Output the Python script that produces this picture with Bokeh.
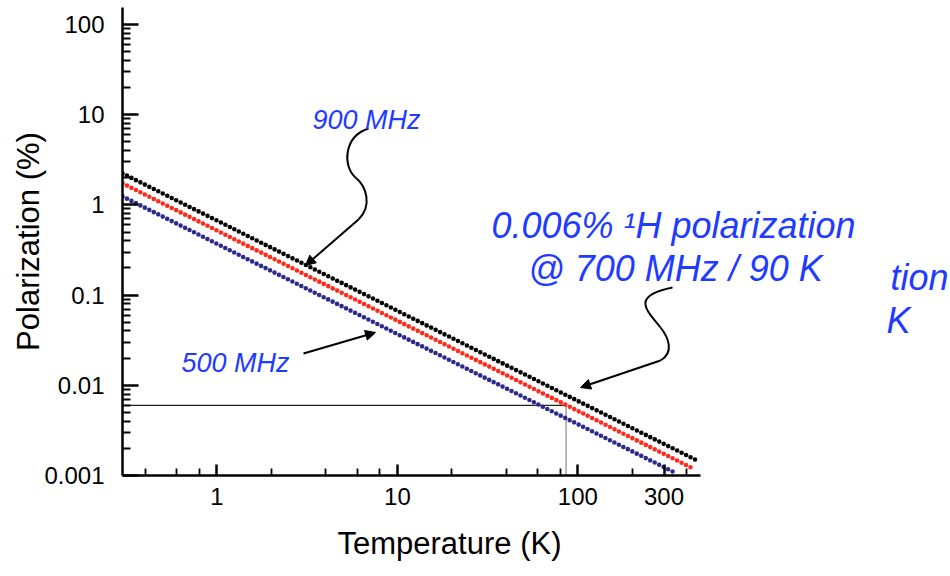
import math
from bokeh.plotting import figure
from bokeh.models import (Range1d, FixedTicker, CustomJSTickFormatter, Label,
                          Arrow, NormalHead, Title)
from bokeh.embed import file_html
from bokeh.resources import INLINE

# ---------------- data ----------------
temps_900 = [0.3, 1, 10, 100, 450]
pol_900 = [2.23, 0.67, 0.067, 0.0067, 0.00149]
temps_700 = [0.3, 1, 10, 100, 440]
pol_700 = [1.73, 0.52, 0.052, 0.0052, 0.00118]
temps_500 = [0.3, 1, 10, 100, 340]
pol_500 = [1.24, 0.37, 0.037, 0.0037, 0.00109]
ref_temp = 86
ref_pol = 0.006

x_major = [1, 10, 100, 300]
x_minor = [0.4, 0.6, 0.8, 2, 4, 6, 8, 20, 40, 60, 80, 200, 400]
y_major = [0.001, 0.01, 0.1, 1, 10, 100]
y_minor = [round(m * 10.0 ** e, 6) for e in range(-3, 3) for m in range(2, 10)]

x_title = "Temperature (K)"
y_title = "Polarization (%)"
label_900 = "900 MHz"
label_500 = "500 MHz"
note_line1 = "0.006% \u00b9H polarization"
note_line2 = "@ 700 MHz / 90 K"
ghost_line1 = "tion"
ghost_line2 = "K"

# ---------------- layout ----------------
W, H = 950, 576
FL, FR, FT, FB = 122, 950, 7, 475
X0 = 0.3
X1 = 10 ** (math.log10(X0) + (FR - FL) / 180.5)   # 180.5 px per decade
Y0, Y1 = 0.001, 154
X_AXIS_END = 480

BLUE = "#1f3bff"
FONT = "Liberation Sans"


def tx(px):
    return 10 ** (math.log10(X0) + (px - FL) / (FR - FL) * math.log10(X1 / X0))


def ty(py):
    return 10 ** (math.log10(Y0) + (FB - py) / (FB - FT) * math.log10(Y1 / Y0))


p = figure(width=W, height=H, x_axis_type="log", y_axis_type="log",
           x_range=Range1d(X0, X1), y_range=Range1d(Y0, Y1),
           output_backend="svg", toolbar_location=None,
           min_border_left=FL, min_border_right=W - FR,
           min_border_top=FT, min_border_bottom=H - FB)
p.outline_line_color = None
p.grid.visible = False
p.background_fill_color = "white"
p.border_fill_color = "white"

fmt = CustomJSTickFormatter(code="return tick.toString()")

for ax in (p.xaxis[0], p.yaxis[0]):
    ax.axis_line_width = 2.5
    ax.axis_line_color = "black"
    ax.major_tick_line_width = 2.5
    ax.minor_tick_line_width = 1.8
    ax.major_tick_line_color = "black"
    ax.minor_tick_line_color = "black"
    ax.major_tick_out = 0
    ax.minor_tick_out = 0
    ax.major_label_text_font = FONT
    ax.major_label_text_font_size = "24px"
    ax.major_label_text_color = "black"
    ax.axis_label_text_font = FONT
    ax.axis_label_text_font_size = "31px"
    ax.axis_label_text_font_style = "normal"
    ax.axis_label_text_color = "black"
    ax.formatter = fmt

p.xaxis.ticker = FixedTicker(ticks=x_major, minor_ticks=x_minor)
p.xaxis.bounds = (X0, X_AXIS_END)
p.xaxis.major_tick_in = 11
p.xaxis.minor_tick_in = 7
p.xaxis.major_label_standoff = 12

p.add_layout(Title(text=x_title, align="left", offset=215, standoff=32,
                   text_font=FONT, text_font_size="31px",
                   text_font_style="normal", text_color="black"), "below")

p.yaxis.ticker = FixedTicker(ticks=y_major, minor_ticks=y_minor)
p.yaxis.major_tick_in = 16
p.yaxis.minor_tick_in = 8
p.yaxis.major_label_standoff = 18
p.yaxis.axis_label = y_title
p.yaxis.axis_label_standoff = -5

# reference lines at 0.006 % / ~90 K
p.line([X0, ref_temp], [ref_pol, ref_pol], line_color="#222222", line_width=1.2)
p.line([ref_temp, ref_temp], [Y0, ref_pol], line_color="#888888", line_width=1.2)

# dotted series
dot = dict(line_width=4.6, line_dash="0 5", line_cap="round")
p.line(temps_500, pol_500, line_color="#2a2a90", **dot)
p.line(temps_700, pol_700, line_color="#ff2a1a", **dot)
p.line(temps_900, pol_900, line_color="#000000", **dot)

# curly arrows (pixel geometry converted to data space)
curves_px = [
    # (x0, y0, cx0, cy0, cx1, cy1, x1, y1)
    (368, 128, 343, 136, 342, 166, 355, 177),
    (355, 177, 366, 186, 372, 205, 358, 219),
    (672, 287, 628, 296, 648, 311, 660, 327),
    (660, 327, 668, 337, 674, 352, 660, 360),
]
p.bezier(x0=[tx(c[0]) for c in curves_px], y0=[ty(c[1]) for c in curves_px],
         cx0=[tx(c[2]) for c in curves_px], cy0=[ty(c[3]) for c in curves_px],
         cx1=[tx(c[4]) for c in curves_px], cy1=[ty(c[5]) for c in curves_px],
         x1=[tx(c[6]) for c in curves_px], y1=[ty(c[7]) for c in curves_px],
         line_color="black", line_width=2)

arrows_px = [
    (358, 219, 305, 265),
    (303, 353, 375, 332),
    (660, 360, 580, 387),
]
for (xa, ya, xb, yb) in arrows_px:
    p.add_layout(Arrow(x_start=tx(xa), y_start=ty(ya), x_end=tx(xb), y_end=ty(yb),
                       line_color="black", line_width=2,
                       end=NormalHead(size=10, fill_color="black", line_color="black",
                                      line_width=1)))

# texts
texts = [
    (label_900, 366, 119, 27, "center"),
    (label_500, 235, 362, 27, "center"),
    (note_line1, 673, 225, 36, "center"),
    (note_line2, 675, 268, 36, "center"),
    (ghost_line1, 948, 277, 36, "right"),
    (ghost_line2, 910, 320, 36, "right"),
]
for (t, xpx, ypx, size, align) in texts:
    p.add_layout(Label(x=tx(xpx), y=ty(ypx), text=t, text_align=align,
                       text_baseline="alphabetic", text_font=FONT,
                       text_font_size=f"{size}px", text_font_style="italic",
                       text_color=BLUE))

open("out.html", "w").write(file_html(p, INLINE))
